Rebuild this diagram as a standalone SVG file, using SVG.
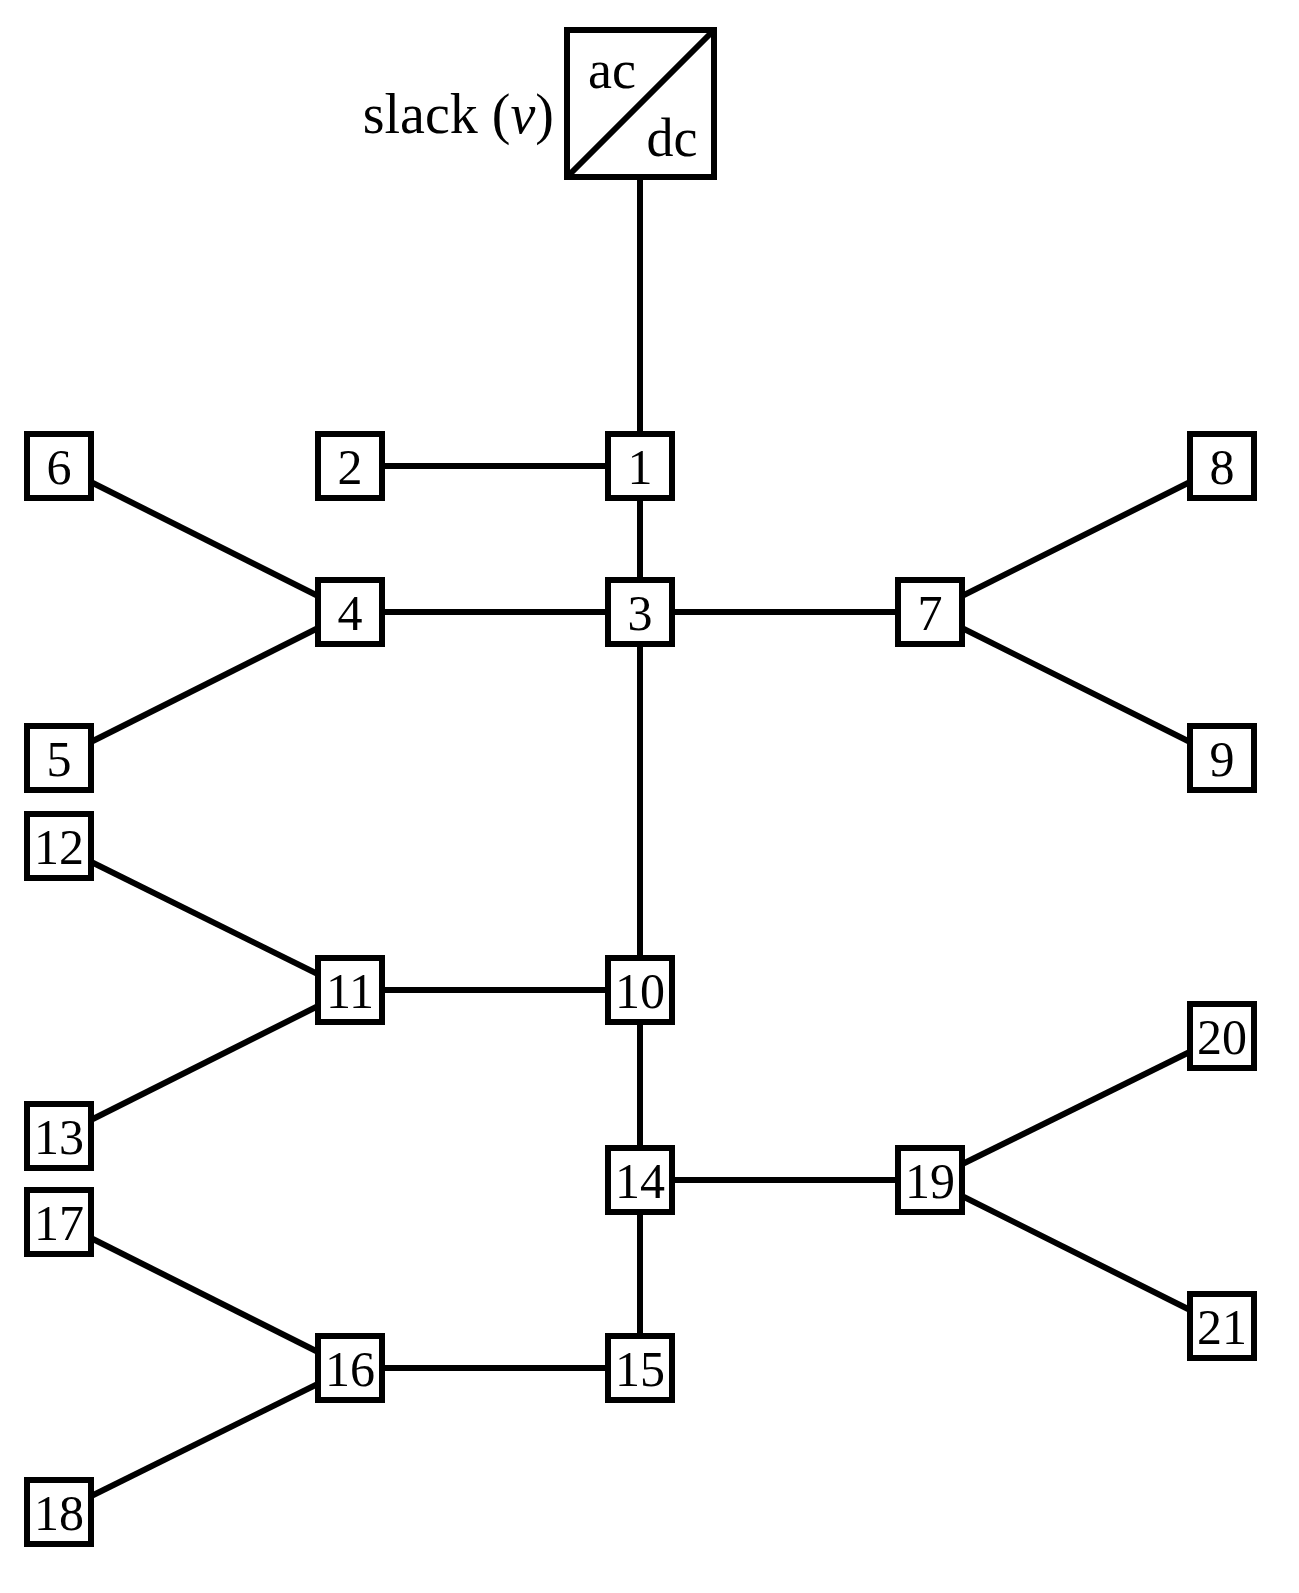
<svg xmlns="http://www.w3.org/2000/svg" width="1299" height="1593" viewBox="0 0 1299 1593">
<style>
.n rect{fill:#fff;stroke:#000;stroke-width:6}
.n text,.t{font-family:"Liberation Serif",serif;font-size:50px;text-anchor:middle;fill:#000}
#edges line{stroke:#000;stroke-width:6}
</style>
<rect width="1299" height="1593" fill="#fff"/>
<g id="edges">
<line x1="640" y1="177" x2="640" y2="1368"/>
<line x1="350" y1="466" x2="640" y2="466"/>
<line x1="350" y1="612" x2="930" y2="612"/>
<line x1="59" y1="466" x2="350" y2="612"/>
<line x1="59" y1="758" x2="350" y2="612"/>
<line x1="1222" y1="466" x2="930" y2="612"/>
<line x1="1222" y1="758" x2="930" y2="612"/>
<line x1="350" y1="990" x2="640" y2="990"/>
<line x1="59" y1="846" x2="350" y2="990"/>
<line x1="59" y1="1136" x2="350" y2="990"/>
<line x1="640" y1="1180" x2="930" y2="1180"/>
<line x1="1222" y1="1036" x2="930" y2="1180"/>
<line x1="1222" y1="1326" x2="930" y2="1180"/>
<line x1="350" y1="1368" x2="640" y2="1368"/>
<line x1="59" y1="1222" x2="350" y2="1368"/>
<line x1="59" y1="1512" x2="350" y2="1368"/>
</g>
<g id="slack">
<rect x="567" y="30" width="147" height="147" fill="#fff" stroke="#000" stroke-width="6"/>
<line x1="567" y1="177" x2="714" y2="30" stroke="#000" stroke-width="6"/>
<text class="t" x="612" y="88" style="font-size:54px">ac</text>
<text class="t" x="672" y="156" style="font-size:54px">dc</text>
<text class="t" x="554" y="133" style="font-size:56px;text-anchor:end">slack (<tspan font-style="italic">v</tspan>)</text>
</g>
<g id="n1" class="n"><rect x="608" y="434" width="64" height="64"/><text x="640" y="484">1</text></g>
<g id="n2" class="n"><rect x="318" y="434" width="64" height="64"/><text x="350" y="484">2</text></g>
<g id="n3" class="n"><rect x="608" y="580" width="64" height="64"/><text x="640" y="630">3</text></g>
<g id="n4" class="n"><rect x="318" y="580" width="64" height="64"/><text x="350" y="630">4</text></g>
<g id="n5" class="n"><rect x="27" y="726" width="64" height="64"/><text x="59" y="776">5</text></g>
<g id="n6" class="n"><rect x="27" y="434" width="64" height="64"/><text x="59" y="484">6</text></g>
<g id="n7" class="n"><rect x="898" y="580" width="64" height="64"/><text x="930" y="630">7</text></g>
<g id="n8" class="n"><rect x="1190" y="434" width="64" height="64"/><text x="1222" y="484">8</text></g>
<g id="n9" class="n"><rect x="1190" y="726" width="64" height="64"/><text x="1222" y="776">9</text></g>
<g id="n10" class="n"><rect x="608" y="958" width="64" height="64"/><text x="640" y="1008">10</text></g>
<g id="n11" class="n"><rect x="318" y="958" width="64" height="64"/><text x="350" y="1008">11</text></g>
<g id="n12" class="n"><rect x="27" y="814" width="64" height="64"/><text x="59" y="864">12</text></g>
<g id="n13" class="n"><rect x="27" y="1104" width="64" height="64"/><text x="59" y="1154">13</text></g>
<g id="n14" class="n"><rect x="608" y="1148" width="64" height="64"/><text x="640" y="1198">14</text></g>
<g id="n15" class="n"><rect x="608" y="1336" width="64" height="64"/><text x="640" y="1386">15</text></g>
<g id="n16" class="n"><rect x="318" y="1336" width="64" height="64"/><text x="350" y="1386">16</text></g>
<g id="n17" class="n"><rect x="27" y="1190" width="64" height="64"/><text x="59" y="1240">17</text></g>
<g id="n18" class="n"><rect x="27" y="1480" width="64" height="64"/><text x="59" y="1530">18</text></g>
<g id="n19" class="n"><rect x="898" y="1148" width="64" height="64"/><text x="930" y="1198">19</text></g>
<g id="n20" class="n"><rect x="1190" y="1004" width="64" height="64"/><text x="1222" y="1054">20</text></g>
<g id="n21" class="n"><rect x="1190" y="1294" width="64" height="64"/><text x="1222" y="1344">21</text></g>
</svg>
